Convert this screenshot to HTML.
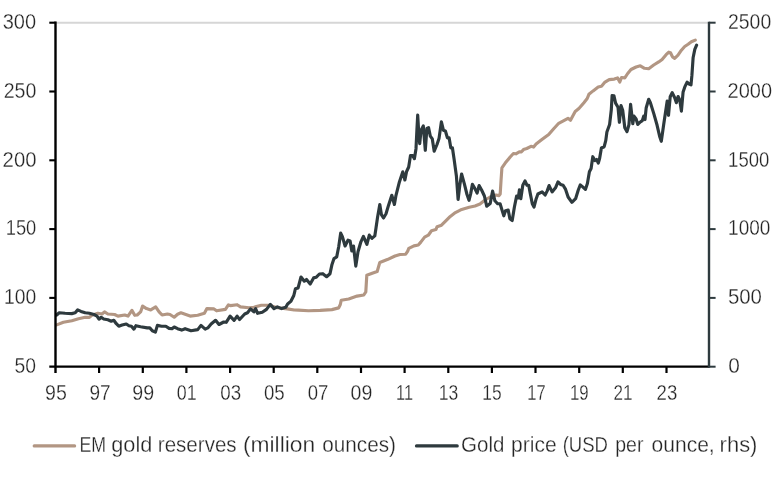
<!DOCTYPE html>
<html lang="en">
<head>
<meta charset="utf-8">
<title>EM gold reserves and gold price</title>
<style>
html,body{margin:0;padding:0;background:#fff;}
body{width:776px;height:477px;overflow:hidden;}
svg{display:block;will-change:transform;}
text{font-family:"Liberation Sans",sans-serif;font-size:22.0px;fill:#242424;stroke:#fff;stroke-width:0.3px;paint-order:fill stroke;}
text.ax{font-size:22.8px;}
</style>
</head>
<body>
<svg width="776" height="477" viewBox="0 0 776 477">
<rect x="0" y="0" width="776" height="477" fill="#ffffff"/>
<line x1="55.5" y1="22.7" x2="709.0" y2="22.7" stroke="#d6d6d6" stroke-width="1.9"/>
<polyline fill="none" stroke="#b29683" stroke-width="3.15" stroke-linejoin="round" stroke-linecap="round" points="56.7,324.9 63.4,322.3 71.8,320.7 78.5,318.7 85.2,317.3 89.4,317.3 91.9,315.3 97.8,313.3 102.0,314.0 104.5,311.9 107.9,314.0 114.6,314.5 117.9,316.1 124.7,315.0 128.0,316.1 131.9,310.3 134.7,315.3 137.2,315.0 140.6,311.9 142.6,306.1 146.5,308.6 150.7,309.9 155.7,306.9 159.1,311.9 162.1,315.0 167.4,314.0 170.0,314.5 174.2,317.2 177.6,314.2 180.9,312.8 190.1,316.1 197.7,315.3 204.4,313.3 206.9,308.6 214.0,308.9 216.6,310.8 225.4,309.4 228.4,304.9 230.4,305.6 237.1,304.7 240.5,306.9 248.9,307.8 253.9,307.2 261.4,305.2 269.0,305.2 277.4,307.8 287.4,308.9 294.2,310.0 298.4,310.1 308.5,310.7 320.2,310.4 331.9,309.6 338.7,307.9 340.3,304.5 341.2,300.3 348.7,299.0 357.1,296.1 363.8,295.0 365.8,291.9 366.8,275.2 372.2,273.2 377.2,271.5 379.8,262.4 387.3,259.6 395.0,256.0 400.0,254.5 405.7,254.2 407.6,251.4 408.8,248.4 413.9,245.9 418.3,245.0 420.8,242.1 424.6,237.1 428.3,235.2 431.5,230.8 435.9,229.6 437.1,226.7 441.5,225.2 445.3,221.4 450.3,216.4 455.4,212.6 461.7,209.4 469.2,207.3 475.0,206.0 480.0,204.0 485.0,200.0 490.1,197.0 495.9,195.0 499.0,195.6 500.2,194.0 501.0,181.0 501.9,167.8 505.2,163.1 510.2,157.0 513.4,153.5 515.9,153.8 519.3,151.8 521.5,151.8 523.5,149.6 526.8,148.5 531.0,146.3 533.6,147.1 536.1,144.1 541.9,139.6 548.7,134.5 553.7,128.7 558.7,123.3 563.8,120.6 568.0,118.3 570.5,120.3 572.5,116.6 575.2,111.5 578.9,108.5 583.9,102.7 587.2,98.5 588.9,94.3 593.1,90.9 598.2,87.0 601.5,86.3 605.0,82.1 609.2,79.6 614.3,79.1 617.6,77.9 619.8,82.0 621.5,77.5 624.8,77.9 627.7,73.5 631.0,69.5 636.1,67.0 640.3,65.8 644.5,68.3 648.7,68.7 653.7,65.0 658.7,61.9 662.1,59.4 666.3,54.4 668.8,52.2 670.5,52.7 672.5,56.9 674.7,58.3 678.0,55.2 681.4,50.2 684.7,46.5 688.1,44.3 691.4,41.8 695.3,40.1"/>
<polyline fill="none" stroke="#2e3a3e" stroke-width="3.15" stroke-linejoin="round" stroke-linecap="round" points="56.7,315.0 59.2,312.8 65.1,313.3 71.8,313.6 75.2,312.8 77.7,309.9 81.0,311.4 85.2,312.8 89.4,313.3 94.0,314.5 97.0,316.1 99.0,319.2 101.2,317.3 103.7,319.0 107.9,319.8 111.2,321.2 113.8,320.3 116.3,323.7 118.8,326.2 122.1,325.0 126.3,324.0 128.9,325.7 131.4,326.2 133.9,329.1 135.9,325.7 140.6,326.7 147.3,327.9 149.8,327.9 152.3,330.7 155.4,332.1 157.4,325.4 161.6,326.2 165.8,326.2 169.1,328.4 172.0,328.7 174.2,327.0 177.6,328.7 181.7,330.1 185.1,328.7 191.0,330.7 197.7,329.6 201.0,325.4 205.2,329.1 207.8,327.9 211.1,324.0 215.6,320.3 219.0,324.5 223.7,322.0 226.2,322.3 230.1,316.1 234.1,320.3 237.1,316.1 239.6,319.5 244.7,314.0 247.5,312.8 250.5,308.9 253.9,311.9 255.6,308.6 257.6,313.3 262.3,312.3 266.5,309.4 270.3,304.4 274.0,308.6 277.4,306.9 281.6,308.6 285.8,307.2 287.6,303.9 290.9,301.3 293.8,295.5 295.4,288.8 298.1,287.9 301.0,277.0 304.3,281.2 306.5,279.5 310.2,284.1 313.6,277.9 316.1,277.3 319.4,274.0 322.8,273.7 326.6,276.7 330.0,273.7 332.0,264.4 334.0,258.6 336.7,256.9 338.7,246.8 340.7,233.1 342.4,236.7 345.1,246.0 348.0,240.1 350.1,240.9 351.8,251.0 353.5,246.0 355.8,266.1 358.0,251.8 360.9,241.8 363.4,236.4 366.9,244.3 369.3,235.1 371.9,238.4 374.8,235.9 376.0,228.0 377.6,217.1 379.8,204.5 381.4,214.6 383.5,218.0 386.0,213.8 388.5,205.4 391.8,195.3 394.4,204.5 396.0,195.3 399.4,181.9 402.8,171.8 404.9,180.0 406.6,171.5 408.7,167.0 410.5,155.6 412.7,155.5 414.4,158.7 416.0,148.7 416.9,130.2 417.7,115.1 418.6,130.2 419.7,143.6 421.1,130.2 423.3,126.0 425.3,150.3 426.9,128.5 428.6,127.7 430.3,136.1 432.3,138.9 434.2,151.2 437.0,144.5 439.0,138.6 441.4,121.8 443.4,130.2 445.4,131.0 447.4,137.8 449.1,137.8 450.8,147.8 452.4,147.8 454.0,158.5 456.4,176.0 458.1,199.5 459.8,185.2 461.6,174.0 464.3,183.6 467.0,194.5 469.0,200.3 470.7,193.6 472.4,184.4 474.9,188.6 477.1,193.0 479.1,185.6 481.6,190.0 484.4,196.0 486.7,206.2 490.2,203.5 492.6,191.1 494.9,200.8 497.6,203.7 500.1,203.7 502.1,210.4 503.8,215.8 505.5,210.7 508.2,210.1 509.9,218.8 512.2,220.5 514.4,207.0 516.6,196.1 518.3,197.8 519.4,189.9 520.8,198.7 522.8,185.2 525.0,181.0 527.0,185.2 528.7,185.2 530.3,193.6 532.3,203.7 534.0,207.0 536.2,198.7 537.9,194.0 542.1,191.9 545.1,195.0 547.1,191.1 549.1,185.6 552.1,191.9 555.5,187.8 558.0,181.9 560.5,184.4 563.1,185.2 565.6,189.4 568.1,197.0 571.9,202.3 575.6,198.7 578.2,190.3 580.3,184.9 582.7,186.9 585.4,189.4 587.4,183.6 589.4,171.8 591.1,168.5 592.8,156.7 594.9,160.5 596.6,159.5 598.3,163.0 599.6,158.5 601.4,148.0 604.2,146.7 605.8,140.4 606.9,132.0 609.6,124.5 611.3,109.8 612.1,95.5 613.9,95.7 615.6,103.1 618.0,107.2 619.4,122.3 621.0,105.6 622.7,110.2 624.8,127.8 627.0,131.6 628.9,124.9 630.6,104.4 632.8,123.7 634.0,116.1 636.1,119.0 637.8,124.5 640.3,122.0 642.3,120.6 643.7,116.1 645.0,119.5 646.2,107.7 648.7,99.3 650.4,102.7 653.8,113.6 657.1,125.3 659.6,136.2 661.3,141.3 663.8,123.7 666.3,106.9 667.2,101.0 668.5,115.3 670.2,96.8 672.2,92.6 674.7,97.7 676.4,102.7 678.1,96.5 679.8,100.2 681.4,111.1 683.1,91.9 684.8,86.9 687.1,82.2 689.1,84.0 691.0,84.8 691.9,75.4 693.1,57.8 694.8,49.4 696.6,45.2"/>
<line x1="55.5" y1="21.599999999999998" x2="55.5" y2="373.0" stroke="#000" stroke-width="2.4"/>
<line x1="49.3" y1="366.7" x2="709.0" y2="366.7" stroke="#000" stroke-width="2.3"/>
<line x1="709.0" y1="21.7" x2="709.0" y2="367.8" stroke="#2e3a3e" stroke-width="2.4"/>
<line x1="49.3" y1="22.7" x2="55.5" y2="22.7" stroke="#000" stroke-width="2.1"/>
<text class="ax" transform="translate(2.65,29.00) scale(0.8793,1)">300</text>
<line x1="49.3" y1="91.5" x2="55.5" y2="91.5" stroke="#000" stroke-width="2.1"/>
<text class="ax" transform="translate(3.72,97.80) scale(0.8591,1)">250</text>
<line x1="49.3" y1="160.3" x2="55.5" y2="160.3" stroke="#000" stroke-width="2.1"/>
<text class="ax" transform="translate(2.6,166.60) scale(0.8903,1)">200</text>
<line x1="49.3" y1="229.1" x2="55.5" y2="229.1" stroke="#000" stroke-width="2.1"/>
<text class="ax" transform="translate(5.72,235.40) scale(0.8042,1)">150</text>
<line x1="49.3" y1="297.9" x2="55.5" y2="297.9" stroke="#000" stroke-width="2.1"/>
<text class="ax" transform="translate(4.03,304.20) scale(0.8479,1)">100</text>
<text class="ax" transform="translate(14.45,373.00) scale(0.8487,1)">50</text>
<line x1="709.0" y1="22.7" x2="715.6" y2="22.7" stroke="#2e3a3e" stroke-width="2.0"/>
<text class="ax" transform="translate(728.02,29.00) scale(0.8513,1)">2500</text>
<line x1="709.0" y1="91.5" x2="715.6" y2="91.5" stroke="#2e3a3e" stroke-width="2.0"/>
<text class="ax" transform="translate(727.6,97.80) scale(0.8774,1)">2000</text>
<line x1="709.0" y1="160.3" x2="715.6" y2="160.3" stroke="#2e3a3e" stroke-width="2.0"/>
<text class="ax" transform="translate(728.12,166.60) scale(0.8119,1)">1500</text>
<line x1="709.0" y1="229.1" x2="715.6" y2="229.1" stroke="#2e3a3e" stroke-width="2.0"/>
<text class="ax" transform="translate(728.12,235.40) scale(0.8326,1)">1000</text>
<line x1="709.0" y1="297.9" x2="715.6" y2="297.9" stroke="#2e3a3e" stroke-width="2.0"/>
<text class="ax" transform="translate(727.92,304.20) scale(0.8952,1)">500</text>
<line x1="709.0" y1="366.7" x2="715.6" y2="366.7" stroke="#2e3a3e" stroke-width="2.0"/>
<text class="ax" transform="translate(728.15,373.00) scale(0.9137,1)">0</text>
<text class="ax" transform="translate(45.12,400.1) scale(0.8585,1)">95</text>
<line x1="99.1" y1="366.7" x2="99.1" y2="373.0" stroke="#000" stroke-width="2.2"/>
<text class="ax" transform="translate(89.42,400.1) scale(0.8366,1)">97</text>
<line x1="142.8" y1="366.7" x2="142.8" y2="373.0" stroke="#000" stroke-width="2.2"/>
<text class="ax" transform="translate(132.22,400.1) scale(0.8631,1)">99</text>
<line x1="186.4" y1="366.7" x2="186.4" y2="373.0" stroke="#000" stroke-width="2.2"/>
<text class="ax" transform="translate(176.78,400.1) scale(0.784,1)">01</text>
<line x1="230.1" y1="366.7" x2="230.1" y2="373.0" stroke="#000" stroke-width="2.2"/>
<text class="ax" transform="translate(220.28,400.1) scale(0.8224,1)">03</text>
<line x1="273.7" y1="366.7" x2="273.7" y2="373.0" stroke="#000" stroke-width="2.2"/>
<text class="ax" transform="translate(263.88,400.1) scale(0.818,1)">05</text>
<line x1="317.3" y1="366.7" x2="317.3" y2="373.0" stroke="#000" stroke-width="2.2"/>
<text class="ax" transform="translate(307.77,400.1) scale(0.815,1)">07</text>
<line x1="361.0" y1="366.7" x2="361.0" y2="373.0" stroke="#000" stroke-width="2.2"/>
<text class="ax" transform="translate(350.55,400.1) scale(0.8585,1)">09</text>
<line x1="404.6" y1="366.7" x2="404.6" y2="373.0" stroke="#000" stroke-width="2.2"/>
<text class="ax" transform="translate(396.08,400.1) scale(0.7143,1)">11</text>
<line x1="448.3" y1="366.7" x2="448.3" y2="373.0" stroke="#000" stroke-width="2.2"/>
<text class="ax" transform="translate(438.75,400.1) scale(0.7692,1)">13</text>
<line x1="491.9" y1="366.7" x2="491.9" y2="373.0" stroke="#000" stroke-width="2.2"/>
<text class="ax" transform="translate(482.35,400.1) scale(0.7628,1)">15</text>
<line x1="535.5" y1="366.7" x2="535.5" y2="373.0" stroke="#000" stroke-width="2.2"/>
<text class="ax" transform="translate(527.35,400.1) scale(0.7249,1)">17</text>
<line x1="579.2" y1="366.7" x2="579.2" y2="373.0" stroke="#000" stroke-width="2.2"/>
<text class="ax" transform="translate(570.05,400.1) scale(0.7352,1)">19</text>
<line x1="622.8" y1="366.7" x2="622.8" y2="373.0" stroke="#000" stroke-width="2.2"/>
<text class="ax" transform="translate(613.45,400.1) scale(0.7492,1)">21</text>
<line x1="666.5" y1="366.7" x2="666.5" y2="373.0" stroke="#000" stroke-width="2.2"/>
<text class="ax" transform="translate(656.62,400.1) scale(0.8172,1)">23</text>
<line x1="34.2" y1="445.9" x2="74.6" y2="445.9" stroke="#b29683" stroke-width="3.2" stroke-linecap="round"/>
<text y="452.4"><tspan x="79.42" textLength="26.54" lengthAdjust="spacingAndGlyphs">EM</tspan> <tspan x="111.22" textLength="41.09" lengthAdjust="spacingAndGlyphs">gold</tspan> <tspan x="157.82" textLength="78.82" lengthAdjust="spacingAndGlyphs">reserves</tspan> <tspan x="242.92" textLength="72.29" lengthAdjust="spacingAndGlyphs">(million</tspan> <tspan x="322.32" textLength="73.7" lengthAdjust="spacingAndGlyphs">ounces)</tspan></text>
<line x1="416.5" y1="445.9" x2="457.2" y2="445.9" stroke="#2e3a3e" stroke-width="3.2" stroke-linecap="round"/>
<text y="452.4"><tspan x="461.1" textLength="43.32" lengthAdjust="spacingAndGlyphs">Gold</tspan> <tspan x="511.12" textLength="45.56" lengthAdjust="spacingAndGlyphs">price</tspan> <tspan x="562.67" textLength="45.35" lengthAdjust="spacingAndGlyphs">(USD</tspan> <tspan x="615.25" textLength="28.21" lengthAdjust="spacingAndGlyphs">per</tspan> <tspan x="651.52" textLength="63.19" lengthAdjust="spacingAndGlyphs">ounce,</tspan> <tspan x="719.62" textLength="37.81" lengthAdjust="spacingAndGlyphs">rhs)</tspan></text>
</svg>
</body>
</html>
